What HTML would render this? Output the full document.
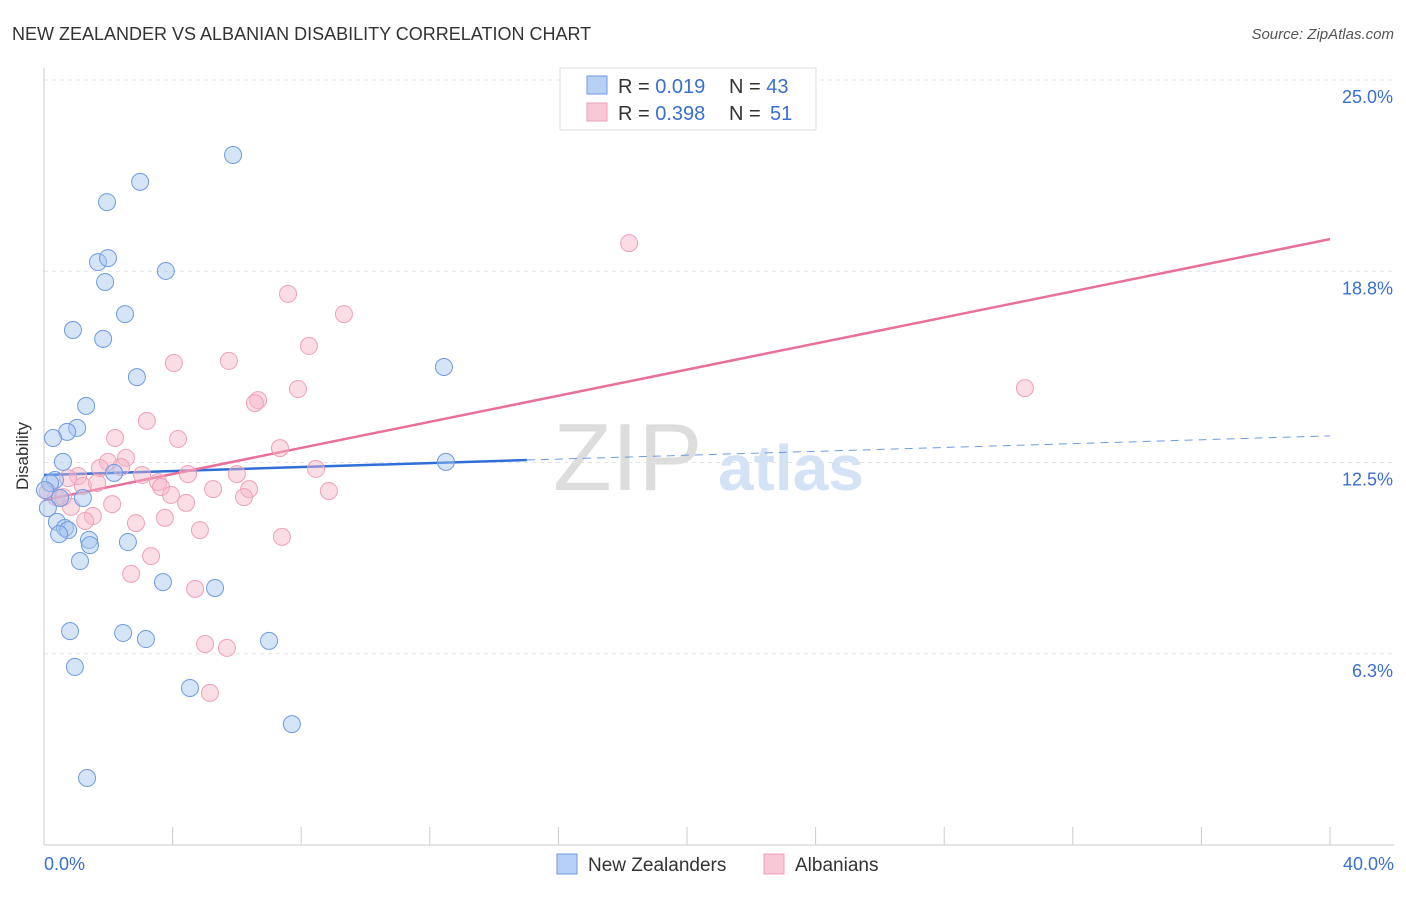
<!DOCTYPE html>
<html><head><meta charset="utf-8"><style>
body{margin:0;background:#fff;font-family:"Liberation Sans",sans-serif}
svg text{font-family:"Liberation Sans",sans-serif}
</style></head><body>
<svg id="c" width="1406" height="892" xmlns="http://www.w3.org/2000/svg">
<text x="12" y="40" font-size="18" fill="#333">NEW ZEALANDER VS ALBANIAN DISABILITY CORRELATION CHART</text>
<text x="1394" y="39" font-size="15" fill="#555" text-anchor="end" font-style="italic">Source: ZipAtlas.com</text>
<text x="553" y="490" font-size="96" fill="#ddd" font-family="Liberation Serif">ZIP</text>
<text x="718" y="490" font-size="64" fill="#d4e2f5" font-weight="bold">atlas</text>
<text x="28" y="456" font-size="17" fill="#333" text-anchor="middle" transform="rotate(-90 28 456)">Disability</text>
<g id="grid"></g><g id="trend"></g><g id="pts"></g>
<rect x="560" y="68" width="256" height="62" fill="#fff" stroke="#ddd"/>
<rect x="587" y="76" width="20" height="18" fill="#b7d0f5" stroke="#6f9be0"/>
<text x="618" y="93" font-size="20" fill="#333">R = <tspan fill="#3a6fd0">0.019</tspan></text>
<text x="729" y="93" font-size="20" fill="#333">N = <tspan fill="#3a6fd0">43</tspan></text>
<rect x="587" y="103" width="20" height="18" fill="#f9c8d6" stroke="#f0a0b8"/>
<text x="618" y="120" font-size="20" fill="#333">R = <tspan fill="#3a6fd0">0.398</tspan></text>
<text x="729" y="120" font-size="20" fill="#333">N = <tspan fill="#3a6fd0" x="770">51</tspan></text>
<rect x="557" y="854" width="20" height="20" fill="#b7d0f5" stroke="#6f9be0"/>
<text x="588" y="871" font-size="19" fill="#333">New Zealanders</text>
<rect x="764" y="854" width="20" height="20" fill="#f9c8d6" stroke="#f0a0b8"/>
<text x="795" y="871" font-size="19" fill="#333">Albanians</text>
</svg>
<script>
const yTicks=[25.0,18.8,12.5,6.3];
const yTickVals=[25,18.75,12.5,6.25];
const xTickLabels=["0.0%","40.0%"];
const blueX=[5.88,2.99,1.96,1.68,1.99,3.79,1.90,2.52,0.90,1.84,2.89,12.44,1.31,1.03,0.72,0.28,0.59,12.50,2.18,0.34,0.19,0.50,1.21,0.12,0.40,0.65,0.75,0.47,1.40,1.43,2.61,1.12,3.70,5.32,0.81,2.46,3.17,7.00,0.96,4.54,7.71,1.34,0.03];
const blueY=[22.55,21.67,21.01,19.05,19.18,18.76,18.40,17.35,16.83,16.54,15.29,15.62,14.35,13.63,13.50,13.30,12.52,12.52,12.16,11.93,11.83,11.34,11.34,11.01,10.56,10.36,10.29,10.16,9.97,9.80,9.90,9.28,8.59,8.40,6.99,6.93,6.73,6.67,5.82,5.13,3.95,2.19,11.60];
const pinkX=[18.20,7.59,9.33,8.24,5.75,4.04,7.90,6.66,6.56,3.20,2.21,4.17,7.34,2.55,1.99,1.74,2.40,8.46,4.48,6.00,3.05,1.06,0.75,3.55,3.64,1.21,1.65,5.26,6.38,3.95,8.86,6.22,0.37,0.59,4.42,2.12,0.84,1.52,1.28,2.86,3.76,4.85,7.40,3.33,2.71,4.70,5.01,5.69,5.16,30.51,0.12];
const pinkY=[19.67,18.01,17.35,16.31,15.82,15.75,14.90,14.54,14.44,13.86,13.30,13.27,12.97,12.65,12.52,12.32,12.35,12.29,12.12,12.12,12.09,12.06,11.99,11.86,11.70,11.73,11.83,11.63,11.63,11.44,11.57,11.37,11.37,11.37,11.18,11.14,11.05,10.75,10.59,10.52,10.69,10.29,10.07,9.44,8.86,8.37,6.57,6.44,4.97,14.93,11.54];
const blueTrend=[12.09,12.58,13.37];
const blueTrendX=[0,15.02,40];
const pinkTrend=[11.27,19.80];
const pinkTrendX=[0,40];
const X=v=>44+v*32.15, Y=v=>845-v*30.6;
const NS="http://www.w3.org/2000/svg";
function mk(p,t,a){const e=document.createElementNS(NS,t);for(const k in a)e.setAttribute(k,a[k]);p.appendChild(e);return e;}
const g=document.getElementById('grid');
yTickVals.forEach((v,i)=>{
 const l=mk(g,'line',{x1:44,x2:1394,y1:Y(v),y2:Y(v),stroke:'#e3e3e3','stroke-dasharray':'4,4'});
 
 
 const t=mk(g,'text',{x:1393,y:Y(v)+23,'font-size':18,fill:'#3a6fd0','text-anchor':'end'});
 t.textContent=yTicks[i].toFixed(1)+'%';
 
 
});
const ax=mk(g,'line',{x1:44,x2:1394,y1:845,y2:845,stroke:'#ccc'});


const ay=mk(g,'line',{x1:44,x2:44,y1:68,y2:845,stroke:'#ccc'});


for(let i=0;i<=10;i++){const t=mk(g,'line',{x1:X(i*4),x2:X(i*4),y1:827,y2:845,stroke:'#ccc'});
 
 }
[[0,'start',44],[40,'end',1394]].forEach((d,i)=>{const t=mk(g,'text',{x:d[2],y:870,'font-size':18,fill:'#3a6fd0','text-anchor':d[1]});t.textContent=xTickLabels[i];
 
 });
const tr=document.getElementById('trend');
const b1=mk(tr,'line',{x1:X(blueTrendX[0]),y1:Y(blueTrend[0]),x2:X(blueTrendX[1]),y2:Y(blueTrend[1]),stroke:'#2f6fd6','stroke-width':2.5});


const b2=mk(tr,'line',{x1:X(blueTrendX[1]),y1:Y(blueTrend[1]),x2:X(blueTrendX[2]),y2:Y(blueTrend[2]),stroke:'#6f9be0','stroke-width':1,'stroke-dasharray':'8,6'});


const p1=mk(tr,'line',{x1:X(pinkTrendX[0]),y1:Y(pinkTrend[0]),x2:X(pinkTrendX[1]),y2:Y(pinkTrend[1]),stroke:'#e8709a','stroke-width':2.5});


const pg=document.getElementById('pts');
pinkX.forEach((v,i)=>{const c=mk(pg,'circle',{cx:X(v),cy:Y(pinkY[i]),r:8.5,fill:'rgba(246,180,200,0.45)',stroke:'#f0a0b8','stroke-width':1});
 
 });
blueX.forEach((v,i)=>{const c=mk(pg,'circle',{cx:X(v),cy:Y(blueY[i]),r:8.5,fill:'rgba(164,196,240,0.45)',stroke:'#6f9be0','stroke-width':1});
 
 });
</script>
</body></html>
